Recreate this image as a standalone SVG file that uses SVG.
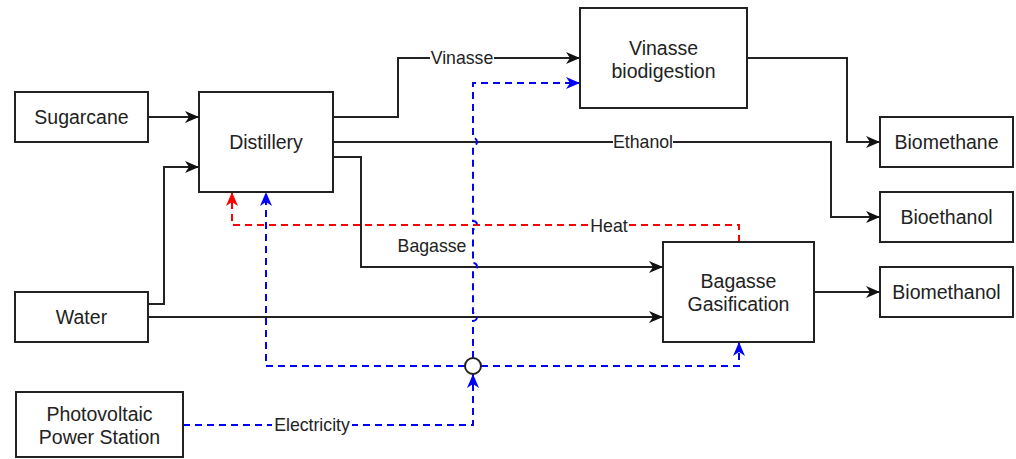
<svg xmlns="http://www.w3.org/2000/svg" width="1016" height="459" viewBox="0 0 1016 459">
<style>
.box{fill:#fff;stroke:#222;stroke-width:2}
.t{font-family:"Liberation Sans",Arial,sans-serif;font-size:19.5px;fill:#222;text-anchor:middle}
.l{font-family:"Liberation Sans",Arial,sans-serif;font-size:17.7px;fill:#222;text-anchor:middle}
.k{fill:none;stroke:#222;stroke-width:2}
.b{fill:none;stroke:#0000ff;stroke-width:2;stroke-dasharray:7 5}
.r{fill:none;stroke:#ff0000;stroke-width:2;stroke-dasharray:7 5}
.bg{fill:#fff}
</style>
<defs>
<marker id="ak" markerUnits="userSpaceOnUse" markerWidth="16" markerHeight="14" refX="14" refY="6" orient="auto"><path d="M0,0 L14,6 L0,12 L4,6 Z" fill="#111"/></marker>
<marker id="ab" markerUnits="userSpaceOnUse" markerWidth="16" markerHeight="14" refX="14" refY="6" orient="auto"><path d="M0,0 L14,6 L0,12 L4,6 Z" fill="#0000ff"/></marker>
<marker id="ar" markerUnits="userSpaceOnUse" markerWidth="16" markerHeight="14" refX="14" refY="6" orient="auto"><path d="M0,0 L14,6 L0,12 L4,6 Z" fill="#ff0000"/></marker>
</defs>
<g id="connectors">
<path class="k" d="M148,117 H199" marker-end="url(#ak)"/>
<path class="k" d="M148,304 H164 V167 H199" marker-end="url(#ak)"/>
<path class="k" d="M333,117 H398 V58 H580" marker-end="url(#ak)"/>
<path class="k" d="M333,142 H831 V217 H880" marker-end="url(#ak)"/>
<path class="k" d="M333,157 H361 V267 H663" marker-end="url(#ak)"/>
<path class="k" d="M148,317 H663" marker-end="url(#ak)"/>
<path class="k" d="M747,58 H847 V142 H880" marker-end="url(#ak)"/>
<path class="k" d="M814,292 H880" marker-end="url(#ak)"/>
<path class="r" d="M739,242 V225 H232 V192" marker-end="url(#ar)"/>
<path class="b" d="M473,358 V321 A4,4 0 0 0 473,313 V271 A4,4 0 0 0 473,263 V229 A4,4 0 0 0 473,221 V146 A4,4 0 0 0 473,138 V83 H580" marker-end="url(#ab)"/>
<path class="b" d="M465,366 H266 V192" marker-end="url(#ab)"/>
<path class="b" d="M481,366 H739 V342" marker-end="url(#ab)"/>
<path class="b" d="M183,425 H473 V374" marker-end="url(#ab)"/>
<rect class="bg" x="430" y="47" width="64" height="22"/>
<text class="l" x="462" y="64">Vinasse</text>
<rect class="bg" x="613" y="131" width="60" height="22"/>
<text class="l" x="643" y="148">Ethanol</text>
<rect class="bg" x="590" y="214" width="38" height="22"/>
<text class="l" x="609" y="232">Heat</text>
<text class="l" x="432" y="252">Bagasse</text>
<rect class="bg" x="272" y="414" width="80" height="22"/>
<text class="l" x="312" y="431">Electricity</text>
</g>
<g id="junction"><circle cx="473" cy="366" r="8" fill="#fff" stroke="#222" stroke-width="2"/></g>
<g id="sugarcane"><rect class="box" x="15" y="92" width="133" height="50"/><text class="t" x="81.5" y="124">Sugarcane</text></g>
<g id="distillery"><rect class="box" x="199" y="92" width="134" height="100"/><text class="t" x="266" y="149">Distillery</text></g>
<g id="water"><rect class="box" x="15" y="292" width="133" height="50"/><text class="t" x="81.5" y="324">Water</text></g>
<g id="pv"><rect class="box" x="16" y="392" width="167" height="65"/><text class="t" x="99.5" y="421">Photovoltaic</text><text class="t" x="99.5" y="444">Power Station</text></g>
<g id="vinasse-biodigestion"><rect class="box" x="580" y="8" width="167" height="100"/><text class="t" x="663.5" y="55">Vinasse</text><text class="t" x="663.5" y="78">biodigestion</text></g>
<g id="bagasse-gasification"><rect class="box" x="663" y="242" width="151" height="100"/><text class="t" x="738.5" y="288">Bagasse</text><text class="t" x="738.5" y="311">Gasification</text></g>
<g id="biomethane"><rect class="box" x="880" y="117" width="133" height="50"/><text class="t" x="946.5" y="149">Biomethane</text></g>
<g id="bioethanol"><rect class="box" x="880" y="192" width="133" height="50"/><text class="t" x="946.5" y="224">Bioethanol</text></g>
<g id="biomethanol"><rect class="box" x="880" y="267" width="133" height="50"/><text class="t" x="946.5" y="299">Biomethanol</text></g>
</svg>
